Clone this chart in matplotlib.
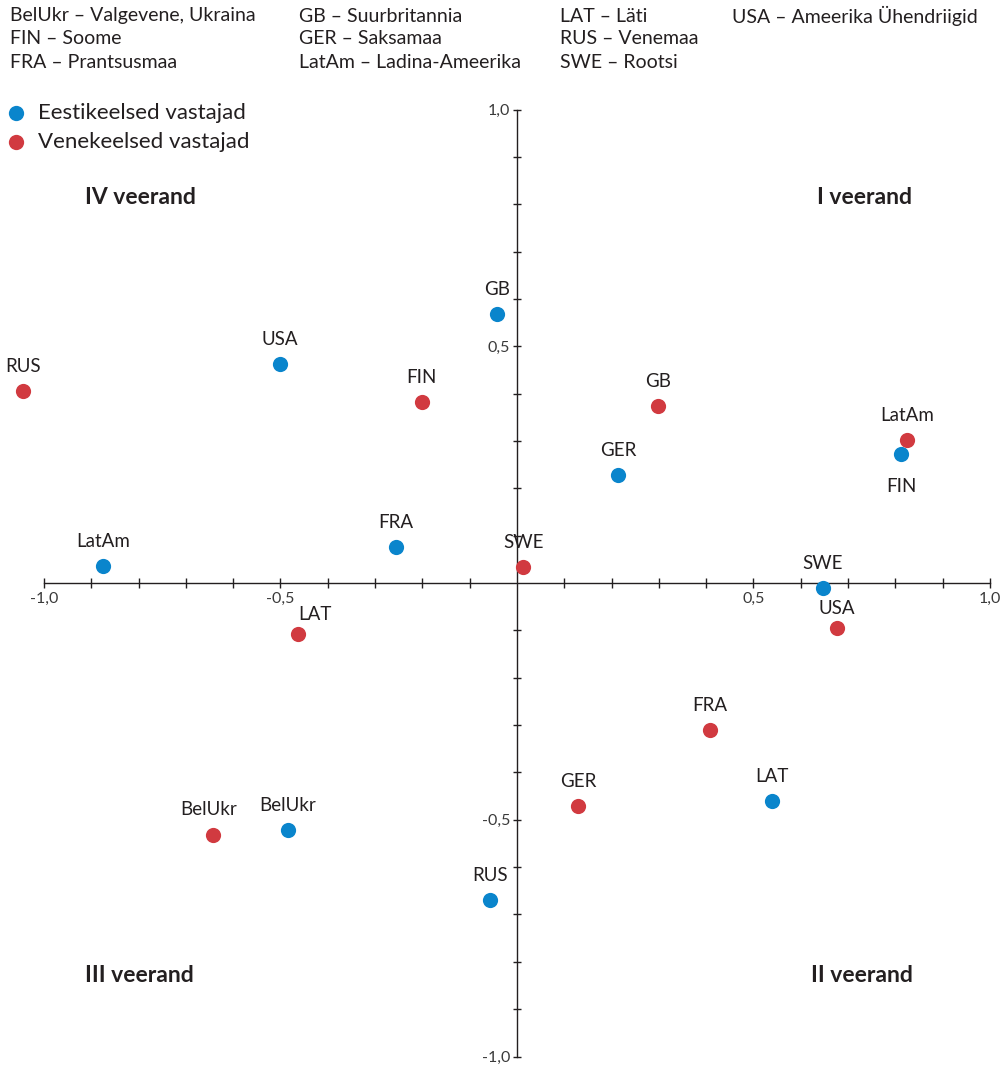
import matplotlib
matplotlib.use("Agg")
import matplotlib.pyplot as plt
from matplotlib.ticker import FuncFormatter

plt.rcParams['font.family'] = ['Lato', 'DejaVu Sans']

countries = ["GB", "USA", "GER", "FIN", "FRA", "LatAm", "SWE", "LAT", "BelUkr", "RUS"]
est_x = [-0.042, -0.501, 0.214, 0.812, -0.256, -0.875, 0.647, 0.539, -0.484, -0.057]
est_y = [0.568, 0.462, 0.228, 0.272, 0.076, 0.036, -0.011, -0.460, -0.522, -0.669]
rus_x = [0.298, 0.677, 0.129, -0.201, 0.408, 0.825, 0.013, -0.463, -0.643, -1.044]
rus_y = [0.374, -0.095, -0.471, 0.382, -0.310, 0.302, 0.034, -0.108, -0.532, 0.405]

series_names = ["Eestikeelsed vastajad", "Venekeelsed vastajad"]
abbrev_legend = [
    "BelUkr – Valgevene, Ukraina", "FIN – Soome", "FRA – Prantsusmaa",
    "GB – Suurbritannia", "GER – Saksamaa", "LatAm – Ladina-Ameerika",
    "LAT – Läti", "RUS – Venemaa", "SWE – Rootsi",
    "USA – Ameerika Ühendriigid",
]
quadrants = ["I veerand", "II veerand", "III veerand", "IV veerand"]

BLUE = "#0a85cc"
RED = "#d13a40"
INK = "#231f20"

W, H = 1004, 1066
fig = plt.figure(figsize=(W / 100, H / 100), dpi=100)
ax = fig.add_axes([0, 0, 1, 1])

x0, y0, sx, sy = 517, 583, 473.0, 473.5
ax.set_xlim(-x0 / sx, (W - x0) / sx)
ax.set_ylim(-(H - y0) / sy, y0 / sy)

for s in ["top", "right"]:
    ax.spines[s].set_visible(False)
ax.spines["left"].set_position(("data", 0))
ax.spines["bottom"].set_position(("data", 0))
ax.spines["left"].set_bounds(-1, 1)
ax.spines["bottom"].set_bounds(-1, 1)
for s in ["left", "bottom"]:
    ax.spines[s].set_color(INK)
    ax.spines[s].set_linewidth(1.0)

ticks = [round(-1 + 0.1 * i, 1) for i in range(21)]
ax.set_xticks([t for t in ticks if t != 0])
ax.set_yticks([t for t in ticks if t != 0])

def fmt(v, pos):
    if abs(abs(v) - 0.5) < 1e-6 or abs(abs(v) - 1.0) < 1e-6:
        return f"{v:.1f}".replace(".", ",")
    return ""

ax.xaxis.set_major_formatter(FuncFormatter(fmt))
ax.yaxis.set_major_formatter(FuncFormatter(fmt))
ax.tick_params(axis="x", direction="inout", length=7, width=1.0, color=INK,
               labelsize=11.5, labelcolor="#3a3a3a", pad=3)
ax.tick_params(axis="y", direction="inout", length=6, width=1.0, color=INK,
               labelsize=11.5, labelcolor="#3a3a3a", pad=2)
ax.patch.set_visible(False)

ax.scatter(est_x, est_y, s=120, color=BLUE, zorder=3, linewidths=0)
ax.scatter(rus_x, rus_y, s=120, color=RED, zorder=3, linewidths=0)

default_off = (0, 17.5)
est_off = {"FIN": (0, -23)}
rus_off = {"LAT": (12, 14), "USA": (0, 14), "BelUkr": (-3, 18)}

for name, x, y in zip(countries, est_x, est_y):
    off = est_off.get(name, default_off)
    ax.annotate(name, (x, y), xytext=off, textcoords="offset points",
                ha="center", va="center", fontsize=13.5, color=INK)
for name, x, y in zip(countries, rus_x, rus_y):
    off = rus_off.get(name, default_off)
    ax.annotate(name, (x, y), xytext=off, textcoords="offset points",
                ha="center", va="center", fontsize=13.5, color=INK)

cols_x = [10, 299, 560, 732]
rows_y = [16, 39, 63]
positions = [(0, 0), (0, 1), (0, 2), (1, 0), (1, 1), (1, 2), (2, 0), (2, 1), (2, 2), (3, 0)]
for txt, (c, r) in zip(abbrev_legend, positions):
    fig.text(cols_x[c] / W, 1 - rows_y[r] / H, txt, ha="left", va="center",
             fontsize=14, color=INK)

for i, (nm, col) in enumerate(zip(series_names, [BLUE, RED])):
    yy = 1 - (113 + 29 * i) / H
    fig.lines.append(plt.Line2D([16 / W], [yy], marker="o", markersize=11,
                                color=col, markeredgewidth=0, transform=fig.transFigure))
    fig.text(38 / W, yy, nm, ha="left", va="center", fontsize=16, color=INK)

qpos = {"I veerand": (865, 197), "II veerand": (862, 975),
        "III veerand": (139, 975), "IV veerand": (140, 197)}
for q in quadrants:
    px, py = qpos[q]
    fig.text(px / W, 1 - py / H, q, ha="center", va="center", fontsize=16.5,
             fontweight="bold", color=INK)

fig.savefig("out.png", dpi=100)
